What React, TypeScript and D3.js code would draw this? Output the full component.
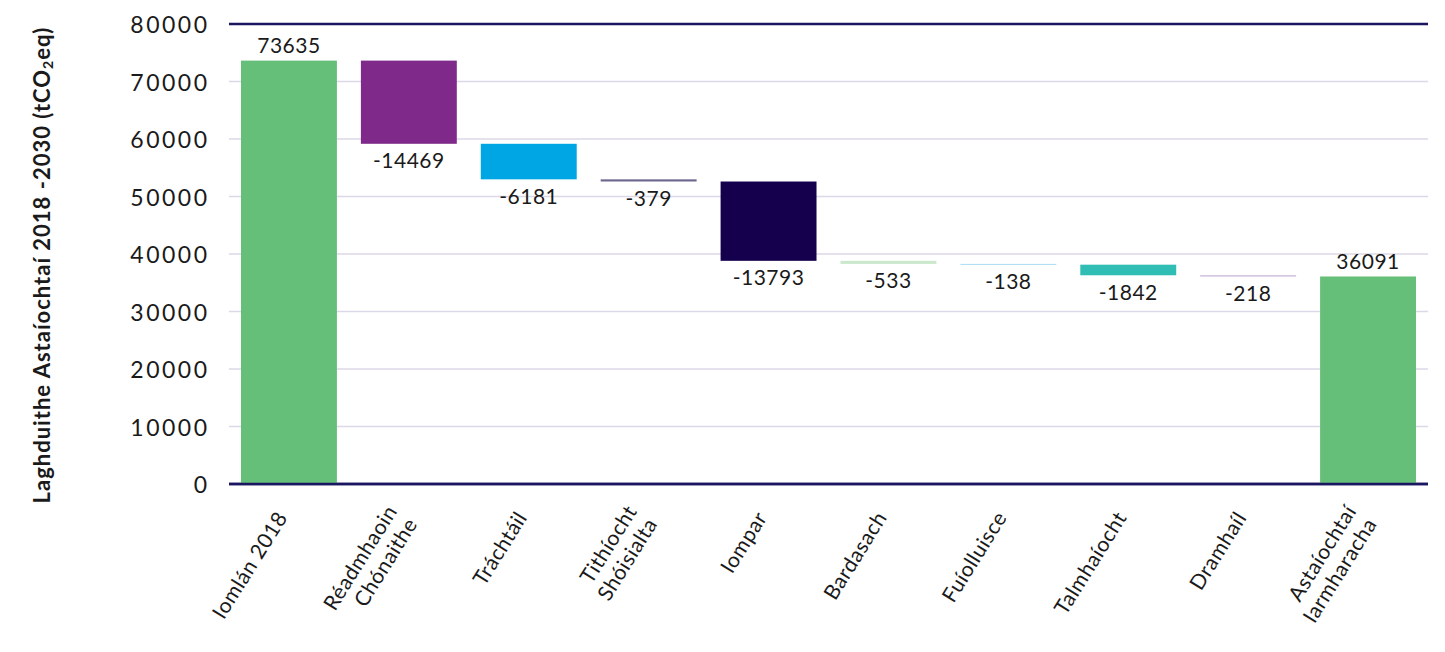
import React from "react";
import * as d3 from "d3";

const categories: string[][] = [
  ["Iomlán 2018"],
  ["Réadmhaoin", "Chónaithe"],
  ["Tráchtáil"],
  ["Tithíocht", "Shóisialta"],
  ["Iompar"],
  ["Bardasach"],
  ["Fuíolluisce"],
  ["Talmhaíocht"],
  ["Dramhaíl"],
  ["Astaíochtaí", "Iarmharacha"],
];
const values: number[] = [73635, -14469, -6181, -379, -13793, -533, -138, -1842, -218, 36091];
const isTotal: boolean[] = [true, false, false, false, false, false, false, false, false, true];
const colors: string[] = [
  "#66BF79",
  "#7F2A8A",
  "#00A5E3",
  "#6E6890",
  "#14004D",
  "#CBE8CC",
  "#ABDBF1",
  "#2FBDB4",
  "#C8B2D6",
  "#66BF79",
];
const yTicks: number[] = [0, 10000, 20000, 30000, 40000, 50000, 60000, 70000, 80000];

const W = 1445;
const H = 652;
const M = { left: 229, right: 1428, top: 24, bottom: 484 };
const FONT = "Lato, 'Noto Sans', sans-serif";

export default function App() {
  const x = d3
    .scaleBand<number>()
    .domain(d3.range(categories.length))
    .range([M.left, M.right])
    .paddingInner(0.2)
    .paddingOuter(0.1);
  const y = d3.scaleLinear().domain([0, 80000]).range([M.bottom, M.top]);

  let running = 0;
  const segs = values.map((v, i) => {
    let lo: number, hi: number;
    if (isTotal[i]) {
      lo = 0;
      hi = v;
      running = v;
    } else {
      hi = running;
      lo = running + v;
      running = lo;
    }
    return { lo, hi, v, i };
  });

  const angle = -58;
  const tickLS = 2.5;

  return (
    <svg
      width={W}
      height={H}
      style={{ position: "absolute", left: 0, top: 0, background: "#fff" }}
      fontFamily={FONT}
    >
      {yTicks.map((t) => {
        const dark = t === 0 || t === 80000;
        return (
          <line
            key={"g" + t}
            x1={M.left}
            x2={M.right}
            y1={y(t)}
            y2={y(t)}
            stroke={dark ? "#1B1660" : "#DCD8E8"}
            strokeWidth={dark ? 2.5 : 1.5}
          />
        );
      })}
      {segs.map((s) => (
        <rect
          key={"b" + s.i}
          x={x(s.i)!}
          width={x.bandwidth()}
          y={y(s.hi)}
          height={Math.max(y(s.lo) - y(s.hi), 1)}
          fill={colors[s.i]}
        />
      ))}
      <line x1={M.left} x2={M.right} y1={y(0)} y2={y(0)} stroke="#1B1660" strokeWidth={2.5} />
      {segs.map((s) => {
        const cx = x(s.i)! + x.bandwidth() / 2;
        const ly = s.v >= 0 ? y(s.hi) - 16 : y(s.lo) + 16;
        return (
          <text
            key={"l" + s.i}
            x={cx}
            y={ly}
            textAnchor="middle"
            dominantBaseline="central"
            fontSize={21}
            letterSpacing={0.5}
            fill="#1a1a1a"
          >
            {String(s.v)}
          </text>
        );
      })}
      {yTicks.map((t) => (
        <text
          key={"t" + t}
          x={207 + tickLS}
          y={y(t)}
          textAnchor="end"
          dominantBaseline="central"
          fontSize={23}
          letterSpacing={tickLS}
          fill="#1a1a1a"
        >
          {String(t)}
        </text>
      ))}
      {categories.map((lines, i) => {
        const cx = x(i)! + x.bandwidth() / 2;
        const lh = 24;
        return (
          <g key={"x" + i} transform={`translate(${cx - 8},${513}) rotate(${angle})`}>
            {lines.map((ln, j) => (
              <text
                key={j}
                x={0}
                y={(j - (lines.length - 1) / 2) * lh}
                textAnchor="end"
                dominantBaseline="central"
                fontSize={21}
                letterSpacing={0.5}
                fill="#1a1a1a"
              >
                {ln}
              </text>
            ))}
          </g>
        );
      })}
      <text
        transform={`translate(41,265) rotate(-90)`}
        textAnchor="middle"
        dominantBaseline="central"
        fontSize={22}
        letterSpacing={1}
        fontWeight="bold"
        fill="#1a1a1a"
      >
        Laghduithe Astaíochtaí  2018 -2030 (tCO
        <tspan fontSize={14} dy={6}>2</tspan>
        <tspan dy={-6}>eq)</tspan>
      </text>
    </svg>
  );
}
